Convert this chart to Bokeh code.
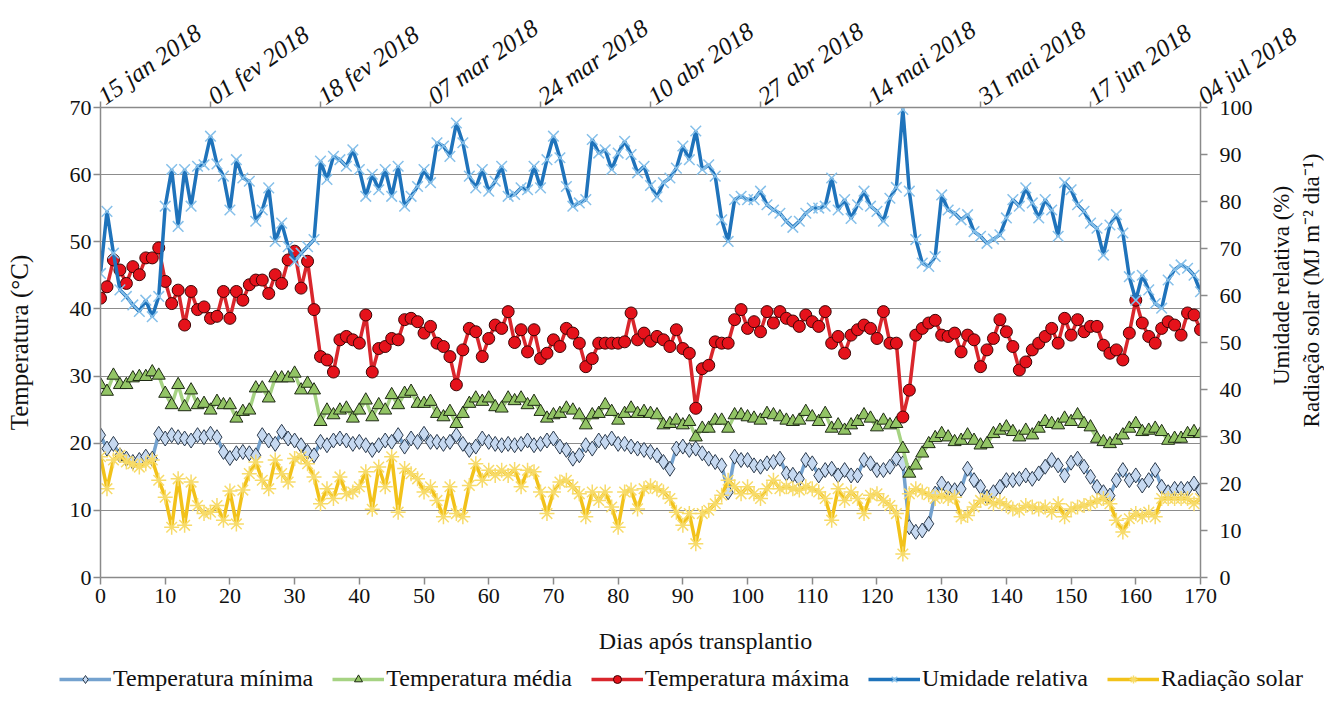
import math
from bokeh.plotting import figure
from bokeh.models import Range1d, LinearAxis, FixedTicker, Legend, LegendItem
from bokeh.layouts import column, row
from bokeh.core.properties import value
from bokeh.embed import file_html
from bokeh.resources import INLINE

days = list(range(171))

t_min = [21.2, 19.2, 19.9, 18.2, 17.7, 17.2, 17.5, 18.0, 17.7, 21.4,
         20.7, 21.2, 20.9, 20.7, 20.4, 21.2, 20.9, 21.4, 20.9, 18.7,
         17.8, 18.5, 18.7, 18.5, 18.2, 21.2, 20.4, 19.9, 21.7, 20.7,
         20.4, 19.7, 18.7, 18.2, 20.2, 19.7, 20.4, 20.7, 20.4, 19.9,
         20.2, 19.7, 19.0, 19.7, 20.4, 20.2, 21.2, 19.5, 20.7, 20.2,
         21.4, 20.2, 20.2, 19.9, 20.2, 21.2, 19.9, 19.0, 19.5, 20.7,
         20.2, 19.9, 19.7, 19.9, 19.7, 19.9, 20.4, 19.7, 19.9, 20.4,
         20.7, 19.5, 19.0, 17.7, 18.2, 19.7, 19.2, 20.4, 20.2, 20.7,
         19.9, 19.9, 19.5, 19.2, 19.0, 18.7, 18.2, 17.2, 16.2, 19.2,
         19.5, 19.0, 19.2, 18.5, 17.7, 17.2, 16.7, 12.7, 18.0, 17.5,
         17.5, 16.7, 16.5, 17.0, 17.2, 17.7, 15.5, 15.3, 14.7, 17.5,
         17.0, 15.2, 16.0, 16.2, 15.2, 16.0, 15.2, 15.2, 17.5, 17.0,
         16.0, 16.0, 16.5, 17.7, 17.0, 7.5, 6.8, 7.0, 8.0, 12.5,
         14.0, 13.2, 13.0, 13.2, 16.2, 14.5, 13.5, 12.0, 12.7, 13.5,
         14.5, 14.5, 14.7, 15.2, 14.7, 15.5, 16.5, 17.5, 16.7, 15.2,
         17.1, 17.7, 16.5, 15.0, 13.5, 12.7, 12.2, 14.5, 16.0, 14.5,
         15.2, 13.7, 14.5, 16.0, 13.5, 12.7, 13.2, 13.2, 13.2, 14.0,
         13.0]

t_med = [28.7, 27.7, 30.1, 28.7, 28.7, 29.7, 29.9, 29.9, 30.6, 30.1,
         27.4, 25.7, 28.7, 25.4, 27.9, 25.7, 25.9, 24.9, 26.2, 25.7,
         25.7, 23.7, 24.7, 24.9, 28.2, 28.2, 26.7, 29.7, 29.7, 29.7,
         30.4, 27.9, 28.9, 27.9, 23.2, 24.9, 24.2, 24.9, 25.2, 23.7,
         24.9, 26.4, 23.9, 25.7, 24.9, 27.2, 25.7, 27.4, 27.7, 25.9,
         25.9, 26.2, 24.4, 23.9, 24.7, 22.9, 24.4, 25.9, 26.7, 26.2,
         26.7, 25.4, 25.2, 26.7, 26.3, 26.7, 25.7, 26.2, 24.7, 23.7,
         24.2, 24.4, 25.2, 24.9, 24.2, 22.7, 24.2, 24.4, 25.7, 24.7,
         23.4, 24.4, 25.2, 24.4, 24.7, 24.4, 24.2, 22.7, 22.9, 23.4,
         22.7, 23.2, 20.9, 22.2, 22.2, 23.4, 23.4, 22.2, 24.2, 24.2,
         23.9, 23.7, 23.4, 24.4, 24.2, 23.9, 23.4, 23.2, 23.4, 24.7,
         23.9, 23.2, 24.4, 22.2, 22.7, 21.9, 22.7, 23.2, 24.2, 23.7,
         22.4, 23.4, 22.7, 22.9, 19.2, 15.5, 16.7, 18.5, 19.9, 20.8,
         21.4, 20.9, 20.2, 20.4, 21.2, 20.4, 19.7, 19.9, 21.4, 21.9,
         22.4, 21.7, 20.9, 21.9, 21.2, 22.2, 23.2, 22.9, 22.7, 23.7,
         23.2, 24.2, 22.9, 22.4, 20.7, 20.2, 19.9, 20.4, 21.2, 22.2,
         22.9, 21.7, 21.9, 22.2, 21.7, 20.4, 20.7, 20.7, 21.4, 21.7,
         21.4]

t_max = [41.6, 43.3, 47.3, 45.8, 43.8, 46.3, 45.1, 47.6, 47.6, 49.1,
         44.1, 40.8, 42.8, 37.6, 42.6, 39.9, 40.3, 38.6, 38.9, 42.6,
         38.6, 42.6, 41.3, 43.6, 44.3, 44.3, 42.3, 45.1, 43.8, 47.3,
         48.6, 43.1, 47.1, 39.9, 32.9, 32.4, 30.6, 35.4, 35.9, 35.4,
         34.9, 39.1, 30.6, 34.1, 34.4, 35.6, 35.4, 38.4, 38.6, 38.1,
         36.4, 37.4, 34.9, 34.4, 32.9, 28.7, 33.9, 37.1, 36.6, 32.9,
         35.6, 37.6, 37.1, 39.6, 35.0, 36.9, 33.6, 36.9, 32.6, 33.4,
         35.4, 34.4, 37.1, 36.4, 34.9, 31.4, 32.6, 34.9, 34.9, 34.9,
         34.9, 35.1, 39.4, 35.4, 36.4, 35.2, 35.9, 35.4, 34.4, 36.9,
         34.1, 33.4, 25.2, 31.1, 31.6, 35.1, 34.9, 34.9, 38.4, 39.9,
         37.1, 38.1, 36.6, 39.6, 37.9, 39.6, 38.6, 38.2, 37.4, 39.1,
         38.1, 37.4, 39.6, 34.9, 35.9, 33.4, 36.1, 36.9, 37.6, 37.1,
         35.6, 39.6, 34.9, 34.9, 23.9, 27.9, 36.1, 37.1, 37.9, 38.3,
         36.1, 35.9, 36.4, 33.6, 36.1, 35.4, 31.4, 33.9, 35.6, 38.4,
         36.6, 34.4, 30.9, 32.1, 33.9, 34.9, 35.9, 37.1, 34.9, 38.6,
         36.1, 38.4, 36.6, 37.4, 37.4, 34.6, 33.4, 33.9, 32.4, 36.4,
         41.3, 37.9, 35.9, 34.9, 37.1, 38.1, 37.6, 36.1, 39.4, 39.1,
         36.9]

umidade = [64.7, 77.9, 69.0, 61.2, 59.8, 58.0, 56.6, 59.0, 55.5, 59.8,
           79.0, 86.8, 74.7, 86.8, 79.0, 87.5, 87.8, 93.9, 88.0, 85.4,
           78.2, 88.9, 85.0, 84.3, 75.8, 78.2, 82.9, 71.5, 75.4, 70.4,
           67.2, 69.0, 70.4, 71.9, 88.6, 84.7, 89.6, 88.9, 87.5, 91.0,
           86.8, 81.1, 85.8, 82.5, 86.8, 81.1, 87.5, 79.0, 81.1, 83.2,
           86.8, 84.0, 92.5, 91.8, 89.6, 96.7, 92.5, 85.4, 82.9, 86.8,
           82.2, 84.3, 87.5, 81.1, 81.5, 82.9, 82.5, 87.5, 82.9, 88.9,
           93.9, 89.3, 83.2, 79.0, 79.7, 80.4, 93.2, 90.3, 91.0, 86.8,
           90.3, 92.8, 90.0, 86.1, 87.5, 83.4, 81.0, 84.0, 85.0, 87.1,
           91.8, 88.9, 95.0, 86.8, 87.8, 85.4, 76.1, 71.5, 80.4, 81.1,
           80.4, 80.4, 82.2, 79.3, 78.2, 77.5, 75.8, 74.5, 75.8, 77.5,
           78.6, 78.6, 79.0, 85.0, 78.2, 80.4, 76.4, 79.3, 82.2, 79.0,
           77.9, 75.8, 80.7, 83.0, 99.6, 82.2, 71.9, 66.9, 66.2, 68.3,
           81.4, 78.2, 77.5, 76.1, 77.2, 73.6, 72.6, 71.1, 72.0, 72.9,
           76.5, 80.4, 79.0, 82.9, 79.7, 76.5, 80.4, 78.2, 72.6, 84.0,
           82.5, 79.3, 77.9, 75.4, 74.3, 68.6, 75.0, 77.2, 73.3, 64.0,
           59.0, 64.3, 61.2, 58.3, 57.3, 63.3, 65.5, 66.5, 65.8, 64.3,
           60.8]

radiacao = [25.7, 18.9, 25.0, 26.0, 24.6, 24.2, 23.5, 24.2, 25.0, 20.7,
            17.1, 10.7, 21.0, 11.1, 20.3, 15.3, 13.6, 13.9, 15.3, 12.2,
            18.4, 11.4, 18.6, 22.1, 24.6, 20.7, 18.9, 25.0, 22.1, 20.3,
            25.3, 25.7, 24.2, 21.4, 15.7, 18.9, 16.8, 21.4, 17.8, 18.2,
            19.3, 22.5, 14.5, 23.5, 19.3, 25.7, 13.9, 23.2, 22.1, 21.0,
            18.2, 19.3, 16.4, 12.9, 19.3, 13.6, 12.9, 19.6, 24.2, 20.7,
            22.8, 21.7, 22.8, 21.7, 23.0, 19.3, 22.8, 22.5, 18.2, 13.6,
            18.2, 20.3, 20.7, 19.3, 17.8, 12.9, 18.2, 16.4, 18.2, 15.0,
            10.7, 18.2, 18.6, 14.6, 18.9, 19.5, 18.9, 18.2, 16.8, 13.9,
            11.1, 13.6, 7.2, 13.6, 14.3, 15.7, 17.5, 20.7, 19.3, 17.8,
            19.3, 17.8, 16.8, 18.9, 20.7, 18.9, 19.3, 18.9, 18.6, 19.3,
            18.9, 18.2, 16.8, 12.2, 18.9, 16.4, 18.2, 16.8, 13.6, 17.5,
            17.8, 16.4, 15.3, 13.6, 5.0, 17.8, 18.9, 18.2, 17.6, 16.8,
            17.5, 16.8, 17.1, 12.9, 13.2, 15.0, 16.4, 16.8, 15.7, 16.1,
            15.3, 14.6, 14.3, 15.3, 15.0, 14.6, 15.0, 13.9, 15.7, 12.9,
            14.6, 15.0, 15.3, 15.7, 16.4, 16.8, 15.7, 12.2, 9.7, 12.5,
            13.6, 12.9, 13.9, 12.9, 16.8, 16.8, 16.8, 16.8, 16.8, 15.7,
            16.8]

day_ticks = list(range(0, 171, 10))
temp_ticks = list(range(0, 71, 10))
right_ticks = list(range(0, 101, 10))
date_ticks = list(range(0, 171, 17))
date_labels = ["15 jan 2018", "01 fev 2018", "18 fev 2018", "07 mar 2018",
               "24 mar 2018", "10 abr 2018", "27 abr 2018", "14 mai 2018",
               "31 mai 2018", "17 jun 2018", "04 jul 2018"]
series_names = ["Temperatura mínima", "Temperatura média", "Temperatura máxima",
                "Umidade relativa", "Radiação solar"]
x_title = "Dias após transplantio"
y_title = "Temperatura (°C)"
y2_titles = ["Umidade relativa (%)", "Radiação solar (MJ m⁻² dia⁻¹)"]

FONT = "Liberation Serif"
AXIS_COLOR = "#8a8a8a"
TXT = "#111111"

# styles per series: (line colour, marker, marker size, fill, marker line)
STY = [
    ("#74a2cf", "diamond", 15, "#c6d9f1", "#2b3a4c"),
    ("#a6d383", "triangle", 13, "#92c465", "#1e2a14"),
    ("#d9262c", "circle", 12, "#e5121b", "#3d0505"),
    ("#1f73bb", "x", 15, None, "#86c0ea"),
    ("#f2c21a", "asterisk", 15, None, "#f7db6a"),
]

W = 1324
MAIN_H = 615
BOT_H = 692 - MAIN_H
SIDE_W = 68
TOP_B, BOT_B = 107, 38
FRAME_H = MAIN_H - TOP_B - BOT_B

p = figure(width=W, height=MAIN_H, x_range=Range1d(0, 170), y_range=Range1d(0, 70),
           output_backend="svg", toolbar_location=None,
           min_border_left=100, min_border_right=124, min_border_top=TOP_B, min_border_bottom=BOT_B)
p.extra_y_ranges = {"right": Range1d(0, 100)}
p.outline_line_color = None
p.background_fill_color = "white"
p.border_fill_color = "white"

p.xgrid.visible = False
p.ygrid.ticker = FixedTicker(ticks=temp_ticks)
p.ygrid.grid_line_color = "#8c8c8c"
p.ygrid.grid_line_width = 1


def style_axis(ax):
    ax.axis_line_color = AXIS_COLOR
    ax.axis_line_width = 1.5
    ax.major_tick_line_color = AXIS_COLOR
    ax.major_tick_line_width = 1.5
    ax.major_tick_in = 0
    ax.major_tick_out = 7
    ax.minor_tick_line_color = None
    ax.major_label_text_font = FONT
    ax.major_label_text_font_size = "22px"
    ax.major_label_text_color = TXT
    ax.axis_label_text_font = FONT
    ax.axis_label_text_font_style = "normal"
    ax.axis_label_text_font_size = "25px"
    ax.axis_label_text_color = TXT


xb = p.xaxis[0]
xb.ticker = FixedTicker(ticks=day_ticks)
style_axis(xb)
xb.major_label_standoff = 4

yl = p.yaxis[0]
yl.ticker = FixedTicker(ticks=temp_ticks)
style_axis(yl)
yl.major_label_standoff = 2
yl.axis_label = y_title
yl.axis_label_standoff = 34

yr = LinearAxis(y_range_name="right", ticker=FixedTicker(ticks=right_ticks))
style_axis(yr)
yr.major_label_standoff = 12
p.add_layout(yr, "right")

xt = LinearAxis(ticker=FixedTicker(ticks=date_ticks),
                major_label_overrides={t: lab for t, lab in zip(date_ticks, date_labels)})
style_axis(xt)
xt.major_tick_out = 6
xt.major_label_text_font_style = "italic"
xt.major_label_text_font_size = "25px"
xt.major_label_orientation = math.radians(35)
xt.major_label_standoff = 3
p.add_layout(xt, "above")

data = [t_min, t_med, t_max, umidade, radiacao]
ranges = ["default", "default", "default", "right", "right"]
for (lc, mk, sz, fc, mlc), ys, rn in zip(STY, data, ranges):
    p.line(days, ys, line_color=lc, line_width=3.5, y_range_name=rn)
    if fc is None:
        p.scatter(days, ys, marker=mk, size=sz, line_color=mlc, line_width=1.5, y_range_name=rn)
    else:
        p.scatter(days, ys, marker=mk, size=sz, fill_color=fc, line_color=mlc,
                  line_width=1, y_range_name=rn)

# right-hand titles: transparent strip laid over the right edge of the main plot;
# its frame matches the main frame vertically (pixel units, 0 = frame bottom)
side = figure(width=SIDE_W, height=MAIN_H, x_range=Range1d(0, SIDE_W), y_range=Range1d(0, FRAME_H),
              output_backend="svg", toolbar_location=None, x_axis_type=None, y_axis_type=None,
              min_border_left=0, min_border_right=0, min_border_top=TOP_B, min_border_bottom=BOT_B,
              margin=(0, 0, 0, -SIDE_W))
side.outline_line_color = None
side.background_fill_color = None
side.border_fill_color = None
side.grid.visible = False
side.text(x=[25, 55], y=[577 - 285, 577 - 290], text=y2_titles, angle=math.pi / 2,
          text_font=value(FONT), text_font_size="23px", text_color=TXT,
          text_align="center", text_baseline="middle")

# bottom: x title and legend
bot = figure(width=W, height=BOT_H, x_range=Range1d(0, W), y_range=Range1d(0, BOT_H),
             output_backend="svg", toolbar_location=None, x_axis_type=None, y_axis_type=None,
             min_border=0)
bot.outline_line_color = None
bot.grid.visible = False
bot.text(x=[705], y=[BOT_H - 25], text=[x_title], text_font=value(FONT), text_font_size="24px",
         text_color=TXT, text_align="center", text_baseline="middle")

# legend proxies (outside the visible range; only their legend glyphs show)
proxy_x = [-50]
proxy_y = [-50]
items = []
for (lc, mk, sz, fc, mlc), name in zip(STY, series_names):
    lr = bot.line(proxy_x, proxy_y, line_color=lc, line_width=3.5)
    if fc is None:
        mr = bot.scatter(proxy_x, proxy_y, marker=mk, size=sz - 2, line_color=mlc, line_width=1.5)
    else:
        mr = bot.scatter(proxy_x, proxy_y, marker=mk, size=sz - 2, fill_color=fc,
                         line_color=mlc, line_width=1)
    items.append(LegendItem(label=name, renderers=[lr, mr]))

legend = Legend(items=items, orientation="horizontal", location=(59, 0))
legend.border_line_color = None
legend.background_fill_alpha = 0
legend.label_text_font = FONT
legend.label_text_font_size = "24px"
legend.label_text_color = TXT
legend.glyph_width = 52
legend.glyph_height = 20
legend.label_standoff = 2
legend.spacing = 19
legend.padding = 0
legend.margin = 0
bot.add_layout(legend)

layout = column(row(p, side), bot)
open("out.html", "w").write(file_html(layout, INLINE))
